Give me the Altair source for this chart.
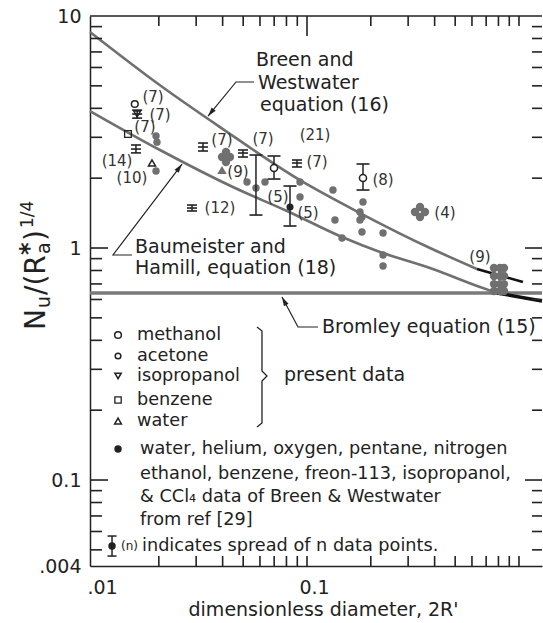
import math

import altair as alt
import pandas as pd

# plot area (pixels) and log-axis extents
W, H = 452, 550
X_MIN, X_MAX = 0.00947, 1.284
Y_MIN, Y_MAX = 0.0426, 10.0

INK = "#222222"
GRAY = "#707070"
FONT = "DejaVu Sans"

# ---- correlation curves -------------------------------------------------
# Breen & Westwater, equation (16)
bw_x = [0.00947, 0.02048, 0.03886, 0.09268, 0.1778, 0.3803, 0.6336]
bw_y = [8.53, 4.99, 3.32, 1.96, 1.415, 1.0, 0.812]
bw_end_x = [0.6336, 1.044]
bw_end_y = [0.812, 0.714]

# Baumeister & Hamill, equation (18)
bh_x = [0.00947, 0.02026, 0.04575, 0.08048, 0.1463, 0.2210, 0.3803, 0.6546, 0.7873]
bh_y = [3.895, 2.645, 1.814, 1.444, 1.115, 0.961, 0.820, 0.679, 0.640]
bh_end_x = [0.7873, 1.284]
bh_end_y = [0.640, 0.591]

# Bromley, equation (15)
bromley_x = [X_MIN, X_MAX]
bromley_y = [0.64, 0.64]

# ---- Breen & Westwater data (filled gray) --------------------------------
bwd_x = [0.0194, 0.0196, 0.0194, 0.05212, 0.06336, 0.05745, 0.09268, 0.09268,
         0.1326, 0.1355, 0.1463, 0.1837, 0.1778, 0.1817, 0.1778, 0.1817,
         0.2284, 0.2284, 0.2284]
bwd_y = [3.04, 2.86, 2.147, 1.925, 1.925, 1.814, 1.925, 1.659,
         1.778, 1.320, 1.104, 1.579, 1.430, 1.360, 1.320, 1.172,
         1.161, 0.933, 0.836]

# groups of overlapping points
grp_x = [0.04148, 0.03972, 0.04332, 0.04148,
         0.3412, 0.3231, 0.3602, 0.3412,
         0.762, 0.814, 0.850, 0.762, 0.814, 0.850,
         0.762, 0.814, 0.850, 0.762, 0.814, 0.850]
grp_y = [2.593, 2.467, 2.467, 2.348,
         1.502, 1.430, 1.430, 1.360,
         0.820, 0.820, 0.820, 0.758, 0.758, 0.758,
         0.699, 0.699, 0.699, 0.653, 0.653, 0.653]

# ---- present data ---------------------------------------------------------
meth_x, meth_y = [0.0154], [4.175]
iso_x, iso_y = [0.0158], [3.78]
benz_x, benz_y = [0.0143], [3.10]
wat_x, wat_y = [0.01857], [2.325]
wat_f_x, wat_f_y = [0.03972], [2.169]

# compact spread symbols (low / mid / high)
sp_x = [0.0158, 0.0156, 0.03231, 0.04989, 0.0897, 0.02868]
sp_lo = [3.63, 2.57, 2.619, 2.467, 2.235, 1.444]
sp_mid = [3.78, 2.67, 2.725, 2.567, 2.325, 1.487]
sp_hi = [3.93, 2.78, 2.835, 2.645, 2.395, 1.532]

# error bars
eb_x = [0.05745, 0.06988, 0.08314, 0.1837]
eb_lo = [1.387, 1.983, 1.244, 1.778]
eb_hi = [2.517, 2.492, 1.850, 2.302]
eb_open_x, eb_open_y = [0.06988, 0.1837], [2.212, 2.003]
eb_dot_x, eb_dot_y = [0.08314], [1.502]

# counts of data points
cnt_t = ["(7)", "(7)", "(7)", "(14)", "(10)", "(7)", "(9)", "(12)", "(7)",
         "(21)", "(7)", "(5)", "(5)", "(8)", "(4)", "(9)"]
cnt_x = [0.01878, 0.02026, 0.01721, 0.0127, 0.01494, 0.03972, 0.04726, 0.03886,
         0.06202, 0.1091, 0.1115, 0.07297, 0.1011, 0.2284, 0.4477, 0.6546]
cnt_y = [4.477, 3.744, 3.323, 2.371, 2.003, 2.921, 2.126, 1.487,
         2.950, 3.070, 2.348, 1.659, 1.415, 1.964, 1.415, 0.9147]

# ---- annotations ----------------------------------------------------------
ann_t = ["Breen and", "Westwater", "equation (16)", "Baumeister and",
         "Hamill, equation  (18)", "Bromley equation (15)", "present data"]
ann_x = [0.05745, 0.05873, 0.06003, 0.01544, 0.01544, 0.1177, 0.07787]
ann_y = [6.46, 5.143, 4.133, 1.01, 0.820, 0.4565, 0.2836]

lead_id = ["bw", "bw", "bw", "bh", "bh", "bh", "br", "br", "br"]
lead_o = [0, 1, 2, 0, 1, 2, 0, 1, 2]
lead_x = [0.05623, 0.04625, 0.03412, 0.01494, 0.01216, 0.02573, 0.1127, 0.09068, 0.07623]
lead_y = [5.195, 5.195, 3.70, 0.933, 0.933, 2.30, 0.4565, 0.4565, 0.615]
arrow_x = [0.03412, 0.02573, 0.07623]
arrow_y = [3.70, 2.30, 0.615]
arrow_a = [219, 37, 332]

# legend
leg_t = ["methanol", "acetone", "isopropanol", "benzene", "water",
         "water, helium, oxygen, pentane, nitrogen",
         "ethanol, benzene, freon-113, isopropanol,",
         "& CCl\u2084 data of Breen & Westwater",
         "from ref [29]",
         "indicates spread of n data points."]
leg_x = [0.01578] * 5 + [0.01631] * 4 + [0.01666]
leg_y = [0.4217, 0.3424, 0.2808, 0.2213, 0.1796, 0.1360, 0.1061, 0.08446, 0.06724, 0.05194]
leg_sym_x = 0.01284
brace_o = [0, 1, 2, 3, 4, 5, 6]
brace_x = [0.05810, 0.06133, 0.06133, 0.06476, 0.06133, 0.06133, 0.05810]
brace_y = [0.4565, 0.4386, 0.2950, 0.2808, 0.2671, 0.1761, 0.1692]
leg_eb_x, leg_eb_lo, leg_eb_mid, leg_eb_hi = 0.01203, 0.04703, 0.05194, 0.05736
leg_n_x = 0.01327

# ---- axis tick positions ----------------------------------------------------
x_minor = [0.02, 0.03, 0.04, 0.05, 0.06, 0.07, 0.08, 0.09,
           0.2, 0.3, 0.4, 0.5, 0.6, 0.7, 0.8, 0.9, 1.0]
x_major = [0.1]
y_minor = [0.05, 0.06, 0.07, 0.08, 0.09, 0.2, 0.3, 0.4, 0.5, 0.6, 0.7, 0.8, 0.9,
           2, 3, 4, 5, 6, 7, 8, 9]
y_major = [0.1, 1]

# pixels per decade, used to place a tick mark's centre just inside an edge
PX_X = W / math.log10(X_MAX / X_MIN)
PX_Y = H / math.log10(Y_MAX / Y_MIN)

XS = alt.Scale(type="log", domain=[X_MIN, X_MAX], nice=False)
YS = alt.Scale(type="log", domain=[Y_MIN, Y_MAX], nice=False)

XAXIS = alt.Axis(values=[0.01, 0.1], labelExpr="datum.value < 0.05 ? '.01' : '0.1'",
                 ticks=False, grid=False, domainColor=INK, domainWidth=1.5,
                 labelFont=FONT, labelFontSize=19, labelColor=INK, labelPadding=12,
                 labelOffset=7, labelFlush=False,
                 title="dimensionless diameter, 2R'", titleFont=FONT, titleFontSize=19,
                 titleFontWeight="normal", titleColor=INK, titlePadding=3, titleX=233)
YAXIS = alt.Axis(values=[Y_MIN, 0.1, 1, 10],
                 labelExpr="datum.value < 0.05 ? '.004' : (datum.value < 0.5 ? '0.1' : (datum.value < 5 ? '1' : '10'))",
                 ticks=False, grid=False, domainColor=INK, domainWidth=1.5,
                 labelFont=FONT, labelFontSize=19, labelColor=INK, labelPadding=9,
                 labelFlush=False, title="")


def X(f="x"):
    return alt.X(f"{f}:Q", scale=XS, axis=XAXIS)


def Y(f="y"):
    return alt.Y(f"{f}:Q", scale=YS, axis=YAXIS)


def df(**cols):
    return pd.DataFrame(cols)


def edge_ticks_x(vals, at, length, inward):
    # vertical tick marks along a horizontal edge, centred half a length inside
    centre = at * 10 ** (inward * length / 2 / PX_Y)
    return alt.Chart(df(x=vals, y=[centre] * len(vals))).mark_tick(
        orient="vertical", size=length, thickness=1.6, color=INK, opacity=1).encode(x=X(), y=Y())


def edge_ticks_y(vals, at, length, inward):
    # horizontal tick marks along a vertical edge, centred half a length inside
    centre = at * 10 ** (inward * length / 2 / PX_X)
    return alt.Chart(df(x=[centre] * len(vals), y=vals)).mark_tick(
        orient="horizontal", size=length, thickness=1.6, color=INK, opacity=1).encode(x=X(), y=Y())


layers = []

# correlation curves
layers += [
    alt.Chart(df(x=bromley_x, y=bromley_y)).mark_line(color="#7a7a7a", strokeWidth=3.5).encode(x=X(), y=Y()),
    alt.Chart(df(x=bw_x, y=bw_y)).mark_line(color=GRAY, strokeWidth=2.6, interpolate="monotone").encode(x=X(), y=Y()),
    alt.Chart(df(x=bh_x, y=bh_y)).mark_line(color=GRAY, strokeWidth=2.6, interpolate="monotone").encode(x=X(), y=Y()),
    alt.Chart(df(x=bw_end_x, y=bw_end_y)).mark_line(color="#111", strokeWidth=2.6).encode(x=X(), y=Y()),
    alt.Chart(df(x=bh_end_x, y=bh_end_y)).mark_line(color="#111", strokeWidth=3.5).encode(x=X(), y=Y()),
]

# leader lines with arrowheads
layers += [
    alt.Chart(df(g=lead_id, o=lead_o, x=lead_x, y=lead_y)).mark_line(color=INK, strokeWidth=1.2).encode(
        x=X(), y=Y(), detail="g:N", order="o:Q"),
    alt.Chart(df(x=arrow_x, y=arrow_y, a=arrow_a)).mark_point(
        shape="M0,0L0.55,1.9L-0.55,1.9Z", filled=True, size=90, color=INK, opacity=1).encode(
        x=X(), y=Y(), angle=alt.Angle("a:Q", scale=None)),
]

# Breen & Westwater data
layers += [
    alt.Chart(df(x=bwd_x, y=bwd_y)).mark_circle(color=GRAY, size=55, opacity=1).encode(x=X(), y=Y()),
    alt.Chart(df(x=grp_x, y=grp_y)).mark_circle(color=GRAY, size=70, opacity=1).encode(x=X(), y=Y()),
]

# spread symbols and error bars
layers += [
    alt.Chart(df(x=sp_x, lo=sp_lo, hi=sp_hi)).mark_rule(color=INK, strokeWidth=1.5).encode(
        x=X(), y=Y("lo"), y2="hi:Q"),
    alt.Chart(df(x=sp_x * 3, y=sp_lo + sp_mid + sp_hi)).mark_tick(
        orient="horizontal", size=10, thickness=1.6, color=INK, opacity=1).encode(x=X(), y=Y()),
    alt.Chart(df(x=eb_x, lo=eb_lo, hi=eb_hi)).mark_rule(color=INK, strokeWidth=1.5).encode(
        x=X(), y=Y("lo"), y2="hi:Q"),
    alt.Chart(df(x=eb_x * 2, y=eb_lo + eb_hi)).mark_tick(
        orient="horizontal", size=13, thickness=1.6, color=INK, opacity=1).encode(x=X(), y=Y()),
    alt.Chart(df(x=eb_open_x, y=eb_open_y)).mark_point(
        shape="circle", filled=True, fill="white", stroke=INK, strokeWidth=1.5, size=50, opacity=1).encode(x=X(), y=Y()),
    alt.Chart(df(x=eb_dot_x, y=eb_dot_y)).mark_circle(color=INK, size=50, opacity=1).encode(x=X(), y=Y()),
]

# present-data symbols
layers += [
    alt.Chart(df(x=meth_x, y=meth_y)).mark_point(shape="circle", filled=False, color=INK, strokeWidth=1.5, size=45, opacity=1).encode(x=X(), y=Y()),
    alt.Chart(df(x=iso_x, y=iso_y)).mark_point(shape="triangle-down", filled=False, color=INK, strokeWidth=1.5, size=45, opacity=1).encode(x=X(), y=Y()),
    alt.Chart(df(x=benz_x, y=benz_y)).mark_point(shape="square", filled=False, color=INK, strokeWidth=1.3, size=45, opacity=1).encode(x=X(), y=Y()),
    alt.Chart(df(x=wat_x, y=wat_y)).mark_point(shape="triangle-up", filled=False, color=INK, strokeWidth=1.5, size=50, opacity=1).encode(x=X(), y=Y()),
    alt.Chart(df(x=wat_f_x, y=wat_f_y)).mark_point(shape="triangle-up", filled=True, color=GRAY, size=90, opacity=1).encode(x=X(), y=Y()),
]

# point counts and annotations
layers += [
    alt.Chart(df(t=cnt_t, x=cnt_x, y=cnt_y)).mark_text(
        font=FONT, fontSize=15, color="#333", align="center", baseline="middle").encode(x=X(), y=Y(), text="t:N"),
    alt.Chart(df(t=ann_t, x=ann_x, y=ann_y)).mark_text(
        font=FONT, fontSize=19, color=INK, align="left", baseline="middle").encode(x=X(), y=Y(), text="t:N"),
]

# legend block
layers += [
    alt.Chart(df(t=leg_t, x=leg_x, y=leg_y)).mark_text(
        font=FONT, fontSize=17.7, color=INK, align="left", baseline="middle").encode(x=X(), y=Y(), text="t:N"),
    alt.Chart(df(x=[leg_sym_x], y=[leg_y[0]])).mark_point(shape="circle", filled=False, color=INK, strokeWidth=1.5, size=45, opacity=1).encode(x=X(), y=Y()),
    alt.Chart(df(x=[leg_sym_x], y=[leg_y[1]])).mark_point(shape="circle", filled=False, color=INK, strokeWidth=1.5, size=32, opacity=1).encode(x=X(), y=Y()),
    alt.Chart(df(x=[leg_sym_x], y=[leg_y[2]])).mark_point(shape="triangle-down", filled=False, color=INK, strokeWidth=1.5, size=40, opacity=1).encode(x=X(), y=Y()),
    alt.Chart(df(x=[leg_sym_x], y=[leg_y[3]])).mark_point(shape="square", filled=False, color=INK, strokeWidth=1.3, size=40, opacity=1).encode(x=X(), y=Y()),
    alt.Chart(df(x=[leg_sym_x], y=[leg_y[4]])).mark_point(shape="triangle-up", filled=False, color=INK, strokeWidth=1.5, size=45, opacity=1).encode(x=X(), y=Y()),
    alt.Chart(df(x=[leg_sym_x], y=[leg_y[5]])).mark_circle(color=INK, size=55, opacity=1).encode(x=X(), y=Y()),
    alt.Chart(df(o=brace_o, x=brace_x, y=brace_y)).mark_line(color=INK, strokeWidth=1.3).encode(x=X(), y=Y(), order="o:Q"),
    alt.Chart(df(x=[leg_eb_x], lo=[leg_eb_lo], hi=[leg_eb_hi])).mark_rule(color=INK, strokeWidth=1.5).encode(x=X(), y=Y("lo"), y2="hi:Q"),
    alt.Chart(df(x=[leg_eb_x] * 2, y=[leg_eb_lo, leg_eb_hi])).mark_tick(orient="horizontal", size=9, thickness=1.5, color=INK, opacity=1).encode(x=X(), y=Y()),
    alt.Chart(df(x=[leg_eb_x], y=[leg_eb_mid])).mark_circle(color=INK, size=55, opacity=1).encode(x=X(), y=Y()),
    alt.Chart(df(t=["(n)"], x=[leg_n_x], y=[leg_eb_mid])).mark_text(font=FONT, fontSize=12, color=INK, align="left", baseline="middle").encode(x=X(), y=Y(), text="t:N"),
]

# inward ticks on all four sides and the top edge of the frame
layers += [
    edge_ticks_x(x_minor + x_major, Y_MIN, 10, +1),
    edge_ticks_x(x_minor, Y_MAX, 10, -1),
    edge_ticks_x(x_major, Y_MAX, 20, -1),
    edge_ticks_y(y_minor, X_MIN, 12, +1),
    edge_ticks_y(y_major, X_MIN, 18, +1),
    edge_ticks_y(y_minor, X_MAX, 10, -1),
    edge_ticks_y(y_major, X_MAX, 17, -1),
    alt.Chart(df(x=[math.sqrt(X_MIN * X_MAX)], y=[Y_MAX])).mark_tick(
        orient="horizontal", size=W, thickness=1.6, color=INK, opacity=1).encode(x=X(), y=Y()),
]

# rotated y-axis title  N_u / (R_a*)^(1/4)
ytitle = [
    ("N", 28, "normal", -45, 314),
    ("u", 19, "normal", -40, 292),
    ("/(R", 28, "normal", -45, 279),
    ("a", 19, "normal", -40, 238),
    ("*", 24, "bold", -53, 239),
    (")", 28, "normal", -45, 225),
    ("1/4", 17, "normal", -57, 212),
]
for txt, fs, fw, px, py in ytitle:
    layers.append(alt.Chart(df(v=[0])).mark_text(
        text=txt, font=FONT, fontSize=fs, fontWeight=fw, color=INK, angle=270,
        align="left", baseline="alphabetic").encode(x=alt.value(px), y=alt.value(py)))

chart = alt.layer(*layers).properties(
    width=W, height=H,
    autosize=alt.AutoSizeParams(type="none"),
    padding={"left": 90, "top": 16, "right": 1, "bottom": 57},
    background="white",
).configure_view(stroke="transparent")

chart.save("out.html", embed_options={"renderer": "svg", "actions": False})
